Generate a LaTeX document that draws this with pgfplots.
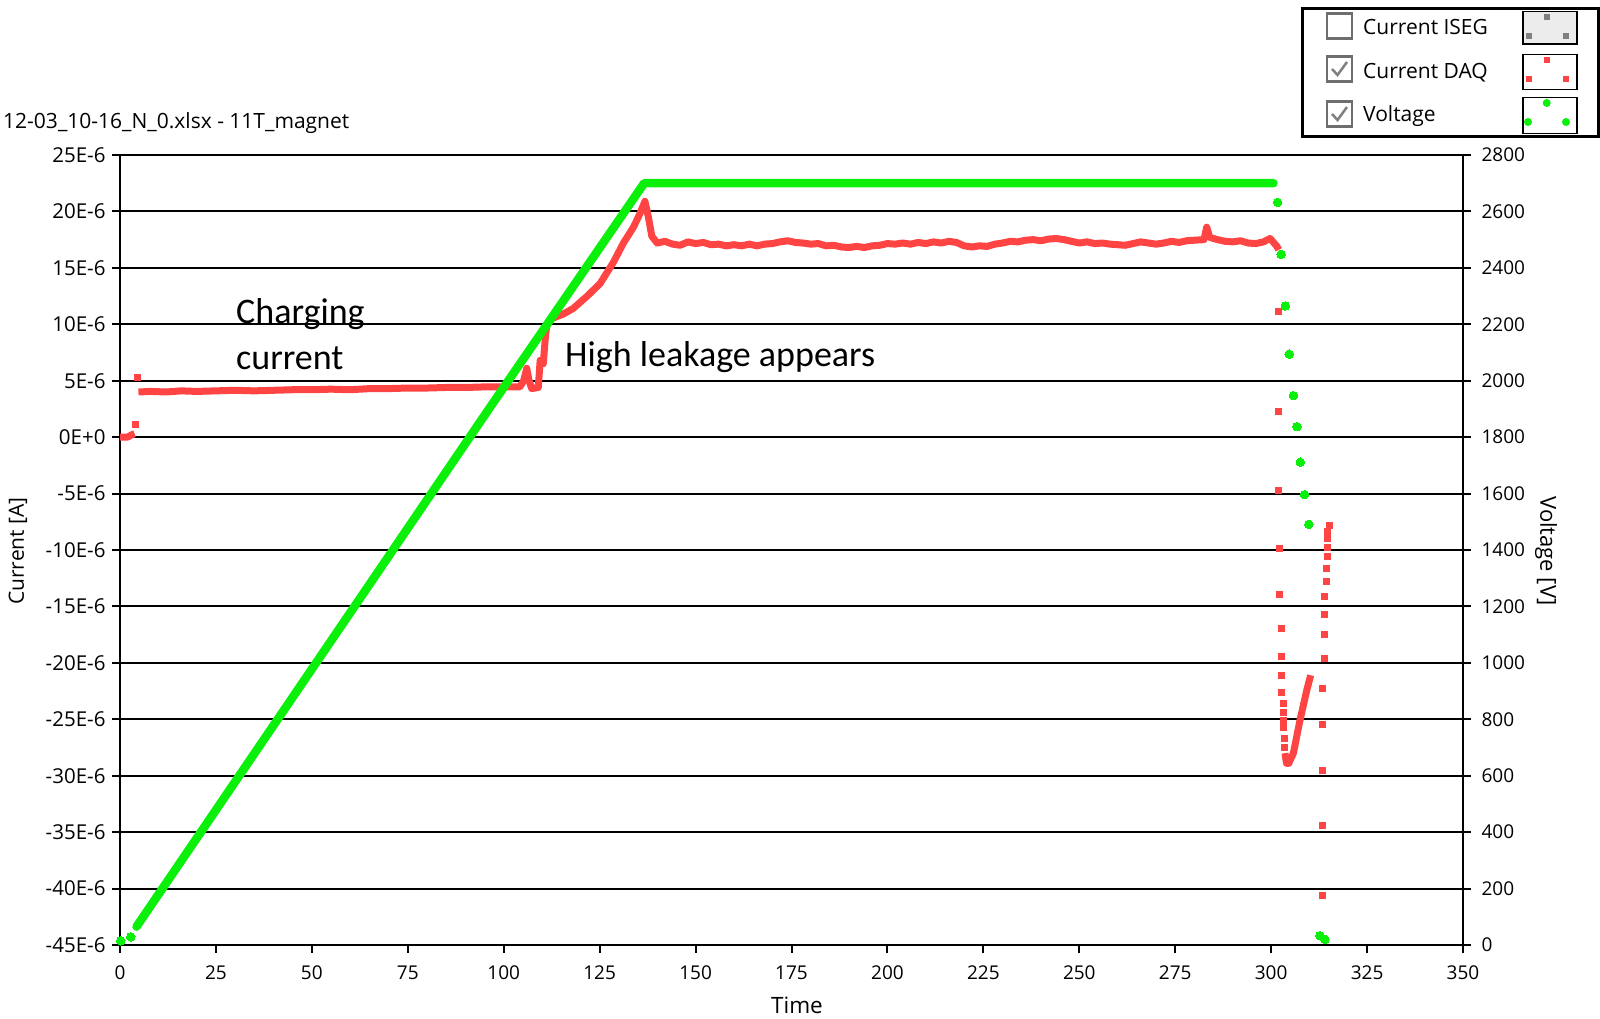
\documentclass[border=0pt]{standalone}
\usepackage{fontspec}
\setmainfont{Open Sans}
\newfontfamily\calibri{Carlito}
\usepackage{pgfplots}
\pgfplotsset{compat=1.18}
\definecolor{dred}{RGB}{255,68,68}
\definecolor{dgreen}{RGB}{10,240,10}
\definecolor{boxgray}{RGB}{110,110,110}
\begin{document}
\begin{tikzpicture}
\path[use as bounding box] (0pt,0pt) rectangle (1600pt,1019pt);
% ---------- current axis ----------
\begin{axis}[
  at={(120pt,74pt)}, anchor=south west,
  scale only axis, width=1343pt, height=790pt,
  xmin=0, xmax=350, ymin=-45, ymax=25,
  xtick={0,25,...,350},
  ytick={-45,-40,...,25},
  yticklabels={-45E-6,-40E-6,-35E-6,-30E-6,-25E-6,-20E-6,-15E-6,-10E-6,-5E-6,0E+0,5E-6,10E-6,15E-6,20E-6,25E-6},
  ymajorgrids,
  major grid style={black,line width=2pt},
  axis line style={black,line width=2pt},
  tick style={black,line width=2pt},
  major tick length=8pt,
  tick align=outside,
  xtick pos=left, ytick pos=left,
  xticklabel style={font=\fontsize{19}{22}\selectfont, yshift=-9pt},
  yticklabel style={font=\fontsize{20.5}{24}\selectfont, xshift=-3pt},
  /pgf/number format/assume math mode=true,
  scaled ticks=false,
]
% dense parts of Current DAQ
\addplot[dred, line width=7pt, line join=round] coordinates {
 (0,0) (2,0) (3,0.2) (3.8,0.3)};
\addplot[dred, line width=7pt, line join=round] coordinates {
 (4.8,4.0) (8,4.05) (12,4.0) (16,4.1) (20,4.05) (25,4.1) (30,4.15) (35,4.1)
 (40,4.15) (45,4.2) (50,4.2) (55,4.25) (60,4.2) (65,4.3) (70,4.3) (75,4.35)
 (80,4.35) (85,4.4) (90,4.4) (95,4.45) (100,4.45)
 (104.2,4.45) (105.2,5.0) (106,6.1) (106.6,5.0)
 (107.3,4.3) (109,4.4) (109.5,6.8) (110.3,6.5) (110.8,8.6) (111.2,9.9)
 (112.5,10.5) (115.5,10.9) (118.1,11.4) (121.6,12.45) (125.1,13.6) (128.6,15.5)
 (131.2,17.2) (133.8,18.6) (135.5,19.8) (136.8,20.9) (137.7,19.5) (138.6,17.8)
 (140,17.2) (142,17.35) (144,17.1) (146,17.0) (148,17.3) (150,17.15) (152,17.25)
 (154,17.05) (156,17.1) (158,16.95) (160,17.05) (162,16.95) (164,17.1) (166,16.95)
 (168,17.1) (170,17.15) (172,17.3) (174,17.4) (176,17.25) (178,17.2) (180,17.1)
 (182,17.15) (184,16.95) (186,17.0) (188,16.85) (190,16.8) (192,16.9) (194,16.8)
 (196,16.95) (198,17.0) (200,17.15) (202,17.1) (204,17.2) (206,17.1) (208,17.25)
 (210,17.15) (212,17.3) (214,17.2) (216,17.35) (218,17.25) (220,16.95) (222,16.85)
 (224,16.95) (226,16.9) (228,17.1) (230,17.2) (232,17.35) (234,17.3) (236,17.45)
 (238,17.5) (240,17.4) (242,17.55) (244,17.6) (246,17.5) (248,17.35) (250,17.2)
 (252,17.3) (254,17.15) (256,17.2) (258,17.1) (260,17.05) (262,17.0) (264,17.15)
 (266,17.3) (268,17.2) (270,17.1) (272,17.2) (274,17.35) (276,17.25) (278,17.4)
 (280,17.45) (282.5,17.5) (283.2,18.6) (284,17.7) (286,17.5) (288,17.35) (290,17.3)
 (292,17.4) (294,17.2) (296,17.15) (298,17.3) (299.7,17.6) (300.5,17.3)
 (301.5,16.9) (302,16.6)};
\addplot[dred, line width=7pt, line join=round] coordinates {
 (303.6,-28.0) (304.0,-28.9) (304.6,-28.9) (305.8,-28.0) (307.5,-25.1)
 (309.3,-22.4) (310.3,-21.1)};
% sparse samples of Current DAQ
\addplot[dred, only marks, mark=square*, mark size=3pt, mark options={draw=dred, fill=dred, line width=0pt}] coordinates {
 (4.1,1.1) (4.6,5.3)
 (302,11.1) (302,2.3) (302.0,-4.7) (302.3,-9.9) (302.3,-13.9) (302.6,-17.0)
 (302.6,-19.4) (302.8,-21.1) (302.8,-22.6) (303.1,-23.6) (303.1,-24.4)
 (303.3,-25.1) (303.3,-25.7) (303.5,-26.7) (303.5,-27.5)
 (313.3,-40.6) (313.3,-34.4) (313.3,-29.5) (313.5,-25.5) (313.5,-22.3)
 (313.8,-19.6) (313.8,-17.5) (314.0,-15.7) (314.0,-14.1) (314.3,-12.8)
 (314.3,-11.6) (314.6,-10.6) (314.6,-9.8) (314.8,-9.0) (314.8,-8.4) (315.1,-7.8)};
\end{axis}
% ---------- voltage axis ----------
\begin{axis}[
  at={(120pt,74pt)}, anchor=south west,
  scale only axis, width=1343pt, height=790pt,
  xmin=0, xmax=350, ymin=0, ymax=2800,
  axis x line=none, axis y line*=right,
  ytick={0,200,...,2800},
  axis line style={black,line width=2pt},
  tick style={black,line width=2pt},
  major tick length=8pt,
  tick align=outside,
  yticklabel style={font=\fontsize{19}{22}\selectfont, xshift=7pt},
  /pgf/number format/assume math mode=true,
  /pgf/number format/1000 sep={},
  scaled ticks=false,
]
\addplot[dgreen, line width=8.5pt, line cap=round, line join=round] coordinates {
 (4.3,65) (50,978) (96.4,1905) (136.6,2700) (200,2700) (250,2700) (300.6,2700)};
\addplot[dgreen, only marks, mark=*, mark size=4.3pt, mark options={draw=dgreen, fill=dgreen, line width=0pt}] coordinates {
 (0.2,15) (2.8,29)
 (301.7,2632) (302.6,2448) (303.7,2265) (304.7,2094) (305.8,1947) (306.7,1837)
 (307.6,1711) (308.7,1596) (309.8,1491) (312.7,33) (314.0,20)};
\end{axis}
% ---------- texts ----------
\node[anchor=base west, inner sep=0pt, font=\fontsize{21}{25}\selectfont] at (3pt,890.7pt) {12-03\_10-16\_N\_0.xlsx - 11T\_magnet};
\node[font=\fontsize{22.5}{26}\selectfont] at (797pt,14pt) {Time};
\node[rotate=90, font=\fontsize{21}{25}\selectfont] at (18pt,468pt) {Current [A]};
\node[rotate=-90, font=\fontsize{22}{26}\selectfont] at (1546pt,468pt) {Voltage [V]};
\node[anchor=base west, inner sep=0pt, font=\calibri\fontsize{36}{42}\selectfont] at (236pt,695pt) {Charging};
\node[anchor=base west, inner sep=0pt, font=\calibri\fontsize{36}{42}\selectfont] at (236pt,649.6pt) {current};
\node[anchor=base west, inner sep=0pt, font=\calibri\fontsize{36}{42}\selectfont] at (565pt,652.3pt) {High leakage appears};
% ---------- legend ----------
\draw[black, line width=3pt, fill=white] (1302pt,882.3pt) rectangle (1598pt,1010.7pt);
\foreach \c in {993,950,905} {
  \draw[boxgray, line width=2.5pt, fill=white] (1327pt,\c pt-12.5pt) rectangle (1352pt,\c pt+12.5pt);
}
\foreach \c in {950,905} {
  \draw[gray, line width=2.5pt] (1332pt,\c pt) -- (1337.5pt,\c pt-6pt) -- (1347pt,\c pt+7pt);
}
\node[anchor=base west, inner sep=0pt, font=\fontsize{21}{25}\selectfont] at (1363pt,984pt) {Current ISEG};
\node[anchor=base west, inner sep=0pt, font=\fontsize{21}{25}\selectfont] at (1363pt,940.7pt) {Current DAQ};
\node[anchor=base west, inner sep=0pt, font=\fontsize{21}{25}\selectfont] at (1363pt,897.3pt) {Voltage};
\draw[black, line width=1.5pt, fill=gray!15] (1523pt,975pt) rectangle (1577pt,1007.3pt);
\draw[black, line width=1.5pt, fill=white] (1523pt,929.7pt) rectangle (1577pt,964.7pt);
\draw[black, line width=1.5pt, fill=white] (1523pt,885.7pt) rectangle (1577pt,921.3pt);
\fill[gray] (1543.7pt,999.3pt) rectangle (1549.7pt,1005.3pt);
\fill[gray] (1525.7pt,980.3pt) rectangle (1531.7pt,986.3pt);
\fill[gray] (1562.7pt,980.3pt) rectangle (1568.7pt,986.3pt);
\fill[dred] (1543.7pt,956pt) rectangle (1549.7pt,962pt);
\fill[dred] (1525.7pt,937pt) rectangle (1531.7pt,943pt);
\fill[dred] (1562.7pt,937pt) rectangle (1568.7pt,943pt);
\fill[dgreen] (1546.7pt,916pt) circle (4pt);
\fill[dgreen] (1528pt,897pt) circle (4pt);
\fill[dgreen] (1566pt,897pt) circle (4pt);
\end{tikzpicture}
\end{document}
